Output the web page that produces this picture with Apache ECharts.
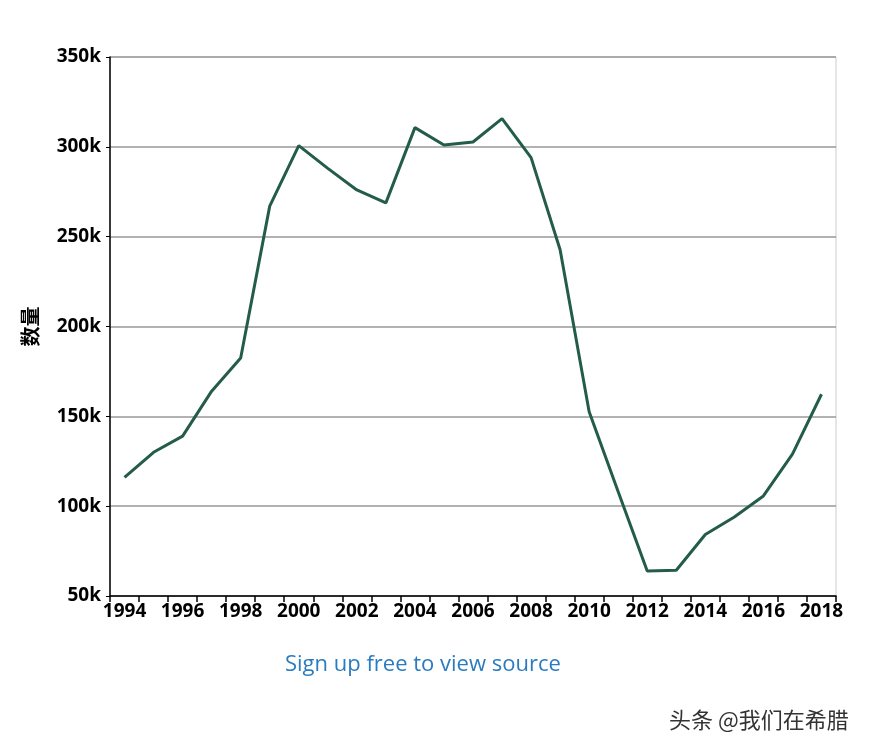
<!DOCTYPE html>
<html>
<head>
<meta charset="utf-8">
<script src="https://cdn.jsdelivr.net/npm/echarts@6/dist/echarts.min.js"></script>
<style>
html,body{margin:0;padding:0;background:#fff;}
#chart{width:872px;height:754px;}
</style>
</head>
<body>
<div id="chart"></div>
<script>
const years = ['1994','1995','1996','1997','1998','1999','2000','2001','2002','2003','2004','2005','2006','2007','2008','2009','2010','2011','2012','2013','2014','2015','2016','2017','2018'];
const counts = [116000,130000,139000,164000,182500,267000,300700,288000,276000,268800,310700,301000,302700,315700,294000,242700,152600,108000,63900,64300,84200,94000,105700,129000,162300];
const yTicks = [50000,100000,150000,200000,250000,300000,350000];
const yAxisName = '数量';
const sourceText = 'Sign up free to view source';
const watermark = '头条 @我们在希腊';

const chart = echarts.init(document.getElementById('chart'));
const labelFont = '"Open Sans", sans-serif';
chart.setOption({
  animation: false,
  grid: {left:110, right:36, top:57, bottom:158, show:true, borderColor:'#cccccc', borderWidth:1, backgroundColor:'transparent'},
  xAxis: {
    type:'category', data: years, boundaryGap:true,
    axisLine:{show:true, lineStyle:{color:'#000', width:1.5}},
    axisTick:{show:true, interval:0, length:6, lineStyle:{color:'#000', width:1.5}},
    axisLabel:{interval:1, color:'#000', fontWeight:'bold', fontSize:19, fontFamily:labelFont, margin:6}
  },
  yAxis: {
    type:'value', min:yTicks[0], max:yTicks[yTicks.length-1], interval:50000,
    name: yAxisName, nameLocation:'middle', nameGap:70,
    nameTextStyle:{color:'#000', fontWeight:'bold', fontSize:20, fontFamily:'"Noto Sans CJK SC", sans-serif'},
    axisLine:{show:true, lineStyle:{color:'#000', width:1.5}},
    axisTick:{show:true, length:4, lineStyle:{color:'#000'}},
    splitLine:{show:true, lineStyle:{color:'#999', width:1.5}},
    axisLabel:{color:'#000', fontWeight:'bold', fontSize:19, fontFamily:labelFont, margin:9,
      formatter: v => (v/1000) + 'k'}
  },
  series: [{
    type:'line', data: counts, symbol:'none', smooth:false,
    lineStyle:{color:'#245c4a', width:3}
  }],
  graphic: [
    {type:'text', left:285, top:654, style:{text: sourceText, fill:'#2b7bbf', fontSize:22, fontFamily:'"Open Sans", sans-serif'}},
    {type:'text', left:669, top:709, style:{text: watermark, fill:'#333', fontSize:22, fontFamily:'"Noto Sans CJK SC", sans-serif'}}
  ]
});
</script>
</body>
</html>
